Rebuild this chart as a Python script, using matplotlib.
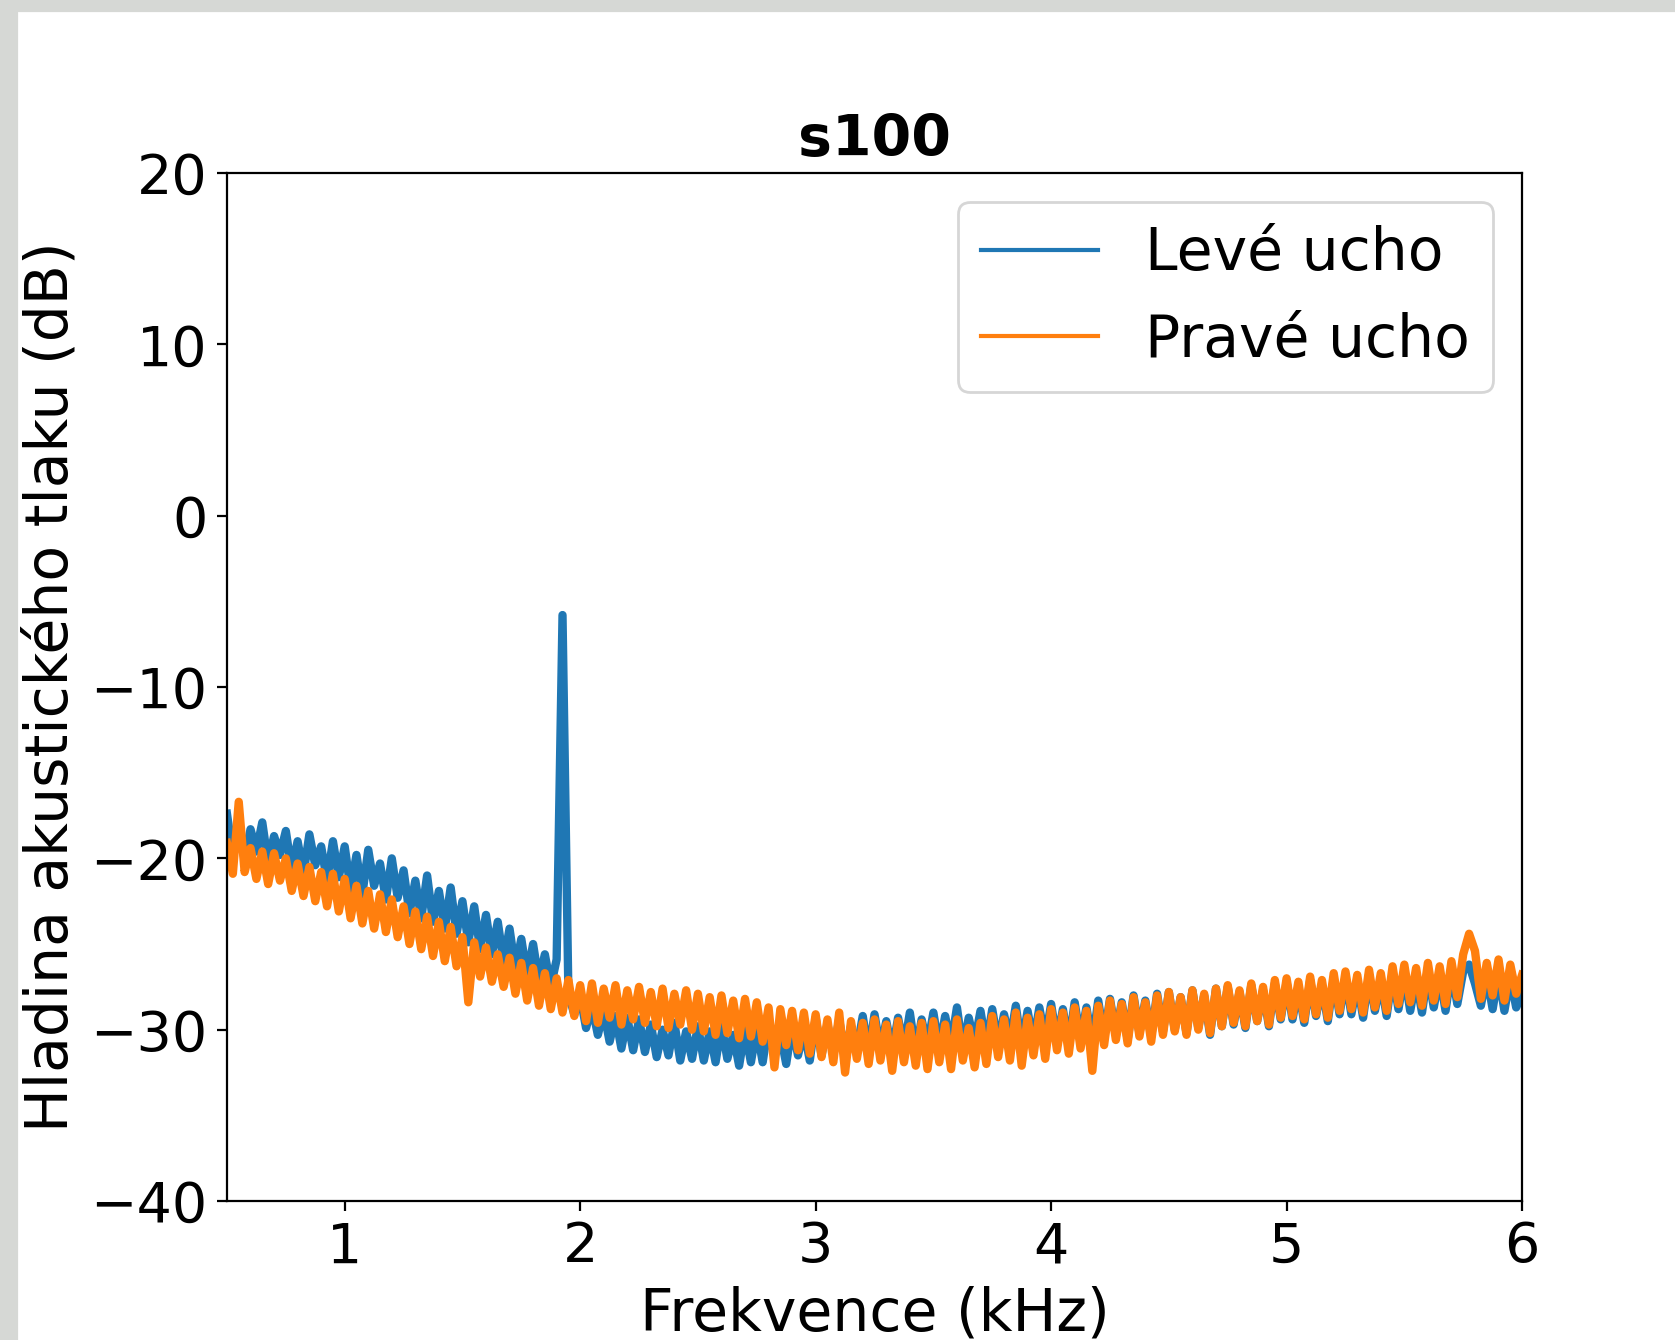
import matplotlib
matplotlib.use("Agg")
import matplotlib.pyplot as plt
import numpy as np
from matplotlib.patches import Rectangle

# frequency grid (kHz), 0.025 kHz step from 0.5 to 6.0
freq = np.round(np.arange(0.5, 6.0001, 0.025), 3)

# left ear level (dB)
levy = [
    -17.4, -19.8, -18.0, -20.1, -18.3, -19.6, -17.9, -20.3, -18.7, -19.8,
    -18.4, -20.7, -19.0, -20.9, -18.6, -20.4, -19.3, -21.3, -19.0, -21.1,
    -19.3, -21.8, -19.8, -22.1, -19.5, -21.6, -20.3, -22.4, -20.0, -22.3,
    -20.7, -23.2, -21.3, -23.5, -21.0, -23.7, -21.9, -24.1, -21.7, -24.4,
    -22.5, -24.9, -22.8, -25.3, -23.3, -25.6, -23.7, -26.1, -24.1, -26.5,
    -24.7, -26.9, -25.0, -27.2, -25.6, -27.5, -25.9, -5.8, -27.9, -29.1,
    -28.0, -29.9, -28.6, -30.3, -28.9, -30.7, -29.2, -31.1, -29.3, -31.2,
    -29.4, -31.3, -29.7, -31.6, -30.0, -31.5, -29.6, -31.8, -30.1, -31.7,
    -29.8, -31.8, -30.1, -31.9, -29.7, -31.7, -30.3, -32.1, -30.0, -31.9,
    -29.9, -31.9, -29.6, -31.6, -30.2, -32.0, -29.7, -31.5, -30.0, -31.8,
    -29.3, -31.5, -29.7, -31.3, -29.4, -31.6, -29.8, -31.2, -29.2, -31.4,
    -29.1, -31.2, -29.5, -31.3, -29.3, -31.1, -29.0, -31.4, -29.4, -31.0,
    -29.0, -31.1, -29.2, -30.9, -28.7, -31.2, -29.3, -30.8, -28.9, -31.0,
    -28.8, -30.9, -29.1, -30.7, -28.6, -31.0, -28.9, -30.8, -28.7, -30.6,
    -28.5, -30.7, -28.8, -30.9, -28.4, -30.6, -28.7, -30.8, -28.3, -30.5,
    -28.2, -30.3, -28.4, -30.6, -28.0, -30.2, -28.3, -30.4, -27.9, -30.1,
    -27.8, -30.0, -28.1, -30.2, -27.7, -29.9, -28.0, -30.3, -27.6, -29.8,
    -27.5, -29.7, -27.8, -29.9, -27.4, -29.5, -27.7, -29.8, -27.3, -29.4,
    -27.2, -29.4, -27.5, -29.6, -27.1, -29.2, -27.4, -29.5, -27.0, -29.1,
    -26.9, -29.1, -27.2, -29.3, -26.8, -28.9, -27.1, -29.2, -26.7, -28.8,
    -26.7, -28.9, -27.0, -29.0, -26.6, -28.7, -26.8, -28.9, -26.5, -28.5,
    -26.6, -26.2, -27.3, -28.6, -26.8, -28.8, -26.7, -28.9, -26.9, -28.7,
    -27.9,
]

# right ear level (dB)
pravy = [
    -19.1, -20.9, -16.7, -20.8, -19.4, -21.2, -19.6, -21.5, -19.7, -21.3,
    -20.0, -21.9, -20.3, -22.2, -20.5, -22.5, -20.8, -22.8, -20.9, -23.1,
    -21.2, -23.5, -21.6, -23.8, -21.9, -24.1, -22.1, -24.3, -22.4, -24.6,
    -22.8, -25.0, -23.1, -25.3, -23.4, -25.7, -23.7, -26.0, -24.0, -26.3,
    -24.6, -28.4, -24.9, -26.9, -25.2, -27.2, -25.6, -27.5, -25.8, -27.9,
    -26.1, -28.3, -26.4, -28.6, -26.7, -28.8, -27.0, -29.0, -27.1, -29.2,
    -27.4, -29.5, -27.3, -29.6, -27.6, -29.3, -27.4, -29.7, -27.7, -29.4,
    -27.5, -29.6, -27.8, -29.8, -27.6, -29.9, -27.9, -29.7, -27.7, -30.0,
    -27.9, -30.1, -28.1, -30.3, -28.0, -30.2, -28.3, -30.5, -28.2, -30.4,
    -28.4, -30.7, -28.7, -32.2, -28.8, -30.9, -28.9, -31.2, -29.0, -31.4,
    -29.1, -31.6, -29.4, -31.9, -29.0, -32.5, -29.5, -31.7, -29.6, -32.0,
    -29.4, -31.8, -29.7, -32.4, -29.5, -31.9, -29.8, -32.1, -29.6, -32.3,
    -29.5, -31.9, -29.7, -32.3, -29.4, -31.8, -29.9, -32.2, -29.6, -32.0,
    -29.2, -31.6, -29.4, -31.8, -29.0, -32.1, -29.3, -31.5, -29.1, -31.7,
    -28.8, -31.2, -29.0, -31.4, -28.7, -31.1, -28.9, -32.4, -28.6, -30.9,
    -28.3, -30.6, -28.5, -30.8, -28.1, -30.4, -28.4, -30.7, -28.0, -30.3,
    -27.8, -30.1, -28.1, -30.3, -27.7, -30.0, -27.9, -30.2, -27.6, -29.8,
    -27.4, -29.6, -27.7, -29.8, -27.3, -29.5, -27.5, -29.7, -27.1, -29.3,
    -27.0, -29.2, -27.2, -29.4, -26.9, -29.1, -27.1, -29.3, -26.7, -28.9,
    -26.6, -28.8, -26.8, -29.0, -26.5, -28.7, -26.7, -28.9, -26.3, -28.5,
    -26.2, -28.4, -26.4, -28.6, -26.1, -28.3, -26.3, -28.5, -26.0, -28.1,
    -25.6, -24.4, -25.4, -28.2, -26.1, -28.0, -25.9, -28.3, -26.2, -27.9,
    -26.8,
]

plt.rcParams["font.size"] = 20

fig = plt.figure(figsize=(8.375, 6.7), dpi=200)
fig.patch.set_facecolor("#d6d8d5")
# white page area, gray strip at top and left like the screenshot
fig.patches.append(Rectangle((19 / 1675, 0), 1, 1 - 13 / 1340,
                             transform=fig.transFigure, color="white", zorder=-10))

ax = fig.add_axes([0.1355, 0.1037, 0.7732, 0.7672])
ax.plot(freq, levy, color="#1f77b4", lw=3.0, label="Levé ucho")
ax.plot(freq, pravy, color="#ff7f0e", lw=3.0, label="Pravé ucho")

ax.set_xlim(0.5, 6)
ax.set_ylim(-40, 20)
ax.set_xticks([1, 2, 3, 4, 5, 6])
ax.set_yticks([-40, -30, -20, -10, 0, 10, 20])
ax.set_title("s100", fontweight="bold", fontsize=20.5)
ax.set_xlabel("Frekvence (kHz)", fontsize=21)
ax.set_ylabel("Hladina akustického tlaku (dB)", fontsize=21)
leg = ax.legend(loc="upper right", fontsize=21)
for line in leg.get_lines():
    line.set_linewidth(1.5)

fig.savefig("out.png", dpi=200, facecolor=fig.get_facecolor())
